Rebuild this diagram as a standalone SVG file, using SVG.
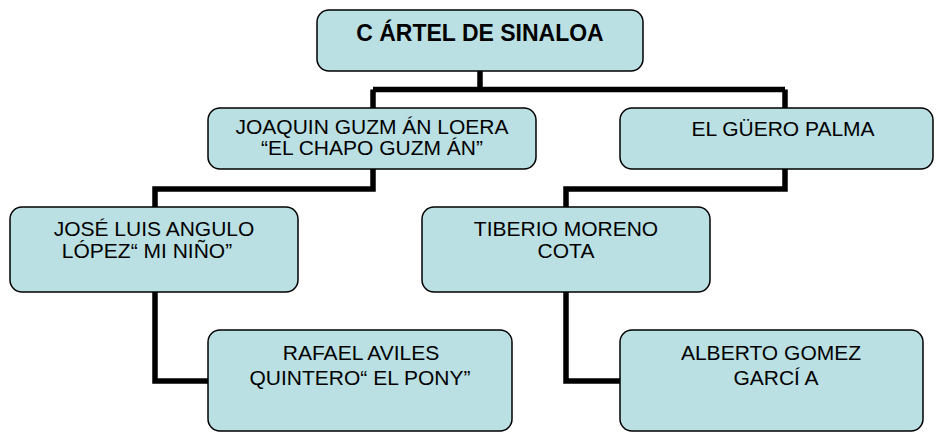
<svg xmlns="http://www.w3.org/2000/svg" width="940" height="433" viewBox="0 0 940 433">
<style>
.box{fill:#BAE0E3;stroke:#000;stroke-width:1.5}
.t{font-family:"Liberation Sans",Arial,sans-serif;font-size:21px;fill:#000;text-anchor:middle}
.b{font-weight:bold;font-size:23px}
.c{fill:none;stroke:#000;stroke-width:5.5;stroke-linejoin:miter}
</style>
<rect width="940" height="433" fill="#fff"/>
<g id="connectors">
<path class="c" d="M480,71 V89.5 M373,89.5 H785 M373,89.5 V108 M785,89.5 V108"/>
<path class="c" d="M373,169 V189 H155 V207"/>
<path class="c" d="M785,169 V189 H566 V207"/>
<path class="c" d="M155,292 V381 H208"/>
<path class="c" d="M566,292 V381 H620"/>
</g>
<g id="cartel">
<rect class="box" x="317" y="10" width="326" height="61" rx="12"/>
<text class="t b" x="480" y="41">C ÁRTEL DE SINALOA</text>
</g>
<g id="joaquin">
<rect class="box" x="208" y="108" width="328" height="61" rx="12"/>
<text class="t" x="372" y="134" font-size="18.5">JOAQUIN GUZM ÁN LOERA</text>
<text class="t" x="372" y="155" font-size="18.5">“EL CHAPO GUZM ÁN”</text>
</g>
<g id="guero">
<rect class="box" x="620" y="108" width="313" height="61" rx="12"/>
<text class="t" x="783" y="136">EL GÜERO PALMA</text>
</g>
<g id="jose">
<rect class="box" x="10" y="207" width="288" height="85" rx="12"/>
<text class="t" x="154" y="236">JOSÉ LUIS ANGULO</text>
<text class="t" x="147" y="258">LÓPEZ“ MI NIÑO”</text>
</g>
<g id="tiberio">
<rect class="box" x="422" y="207" width="288" height="85" rx="12"/>
<text class="t" x="566" y="236">TIBERIO MORENO</text>
<text class="t" x="566" y="258">COTA</text>
</g>
<g id="rafael">
<rect class="box" x="208" y="330" width="304" height="101" rx="12"/>
<text class="t" x="361" y="360">RAFAEL AVILES</text>
<text class="t" x="360" y="385">QUINTERO“ EL PONY”</text>
</g>
<g id="alberto">
<rect class="box" x="620" y="330" width="303" height="101" rx="12"/>
<text class="t" x="771" y="360">ALBERTO GOMEZ</text>
<text class="t" x="776" y="385">GARCÍ A</text>
</g>
</svg>
